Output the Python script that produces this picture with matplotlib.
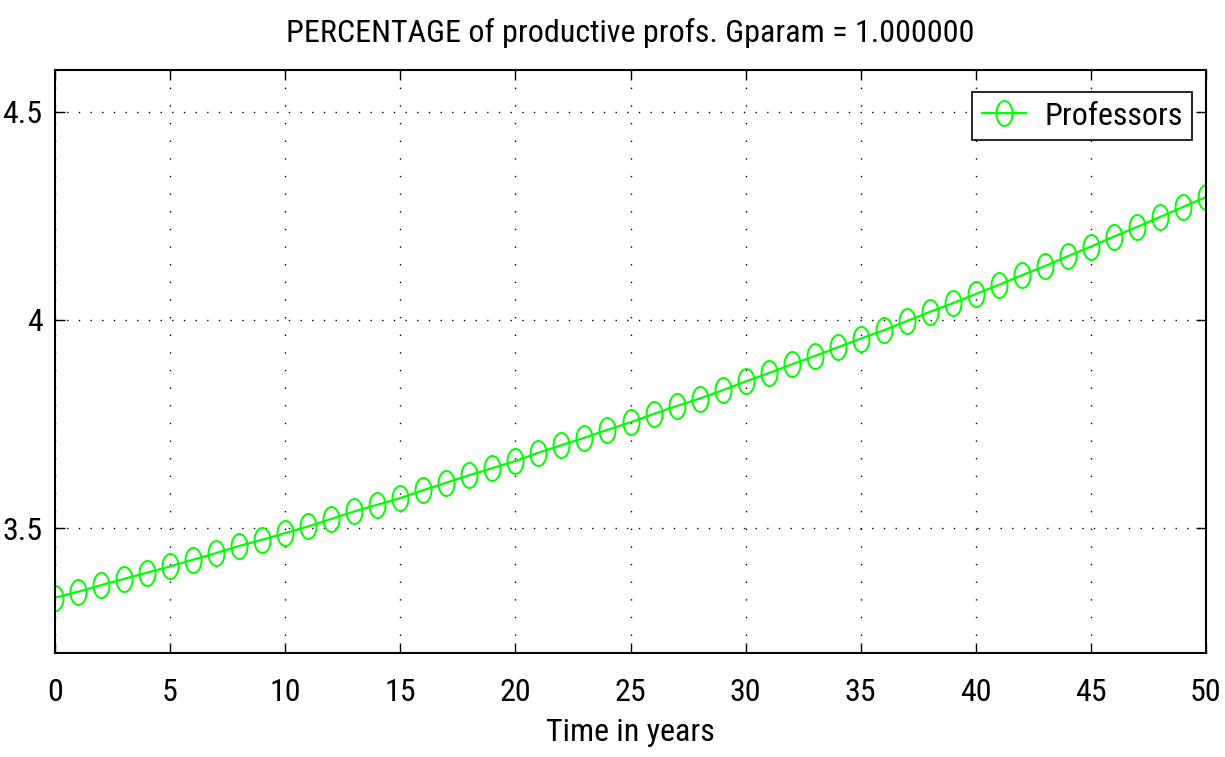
import numpy as np
import matplotlib
matplotlib.use("Agg")
import matplotlib.pyplot as plt
from matplotlib.path import Path
from matplotlib import font_manager as fm

years = list(range(0, 51))
professors = [
    3.333, 3.347, 3.363, 3.378, 3.393, 3.408, 3.424, 3.440, 3.457, 3.472,
    3.488, 3.504, 3.522, 3.540, 3.556, 3.572, 3.591, 3.609, 3.627, 3.644,
    3.661, 3.681, 3.699, 3.717, 3.736, 3.754, 3.774, 3.793, 3.811, 3.831,
    3.852, 3.872, 3.893, 3.913, 3.934, 3.955, 3.975, 3.997, 4.019, 4.040,
    4.062, 4.084, 4.107, 4.129, 4.153, 4.176, 4.200, 4.223, 4.247, 4.271,
    4.295,
]
x_ticks = [0, 5, 10, 15, 20, 25, 30, 35, 40, 45, 50]
y_ticks = [3.5, 4.0, 4.5]
y_ticklabels = ["3.5", "4", "4.5"]
title_text = "PERCENTAGE of productive profs. Gparam = 1.000000"
xlabel_text = "Time in years"
legend_label = "Professors"

# look for a condensed sans font (reference uses a narrow Helvetica look)
cands = []
for f in fm.fontManager.ttflist:
    nm = f.name.lower()
    fn = f.fname.lower()
    if f.style != "normal" or f.weight not in (400, "normal", "regular"):
        continue
    if "narrow" in nm or "condensed" in nm or "condensed" in fn or "narrow" in fn \
            or str(f.stretch) in ("condensed", "semi-condensed", "75", "87.5"):
        cands.append(f)
pref = ["liberation sans narrow", "arial narrow", "roboto condensed",
        "open sans condensed", "noto sans condensed", "dejavu sans condensed",
        "dejavusanscondensed"]
chosen = None
for p in pref:
    for f in cands:
        if p in f.name.lower() or p.replace(" ", "") in f.fname.lower().replace(" ", ""):
            chosen = f
            break
    if chosen:
        break
if chosen is None and cands:
    chosen = cands[0]

if chosen is not None:
    fp = fm.FontProperties(fname=chosen.fname)
    condensed = True
else:
    fp = fm.FontProperties(family="Liberation Sans")
    condensed = False

FS = 23 if condensed else 21

W, H = 1225, 757
fig = plt.figure(figsize=(W / 100, H / 100), dpi=100)
left, right, top, bottom = 55, 1206, 70, 653
ax = fig.add_axes([left / W, 1 - bottom / H, (right - left) / W, (bottom - top) / H])

t = np.linspace(0, 2 * np.pi, 60)
ell = Path(np.column_stack([0.64 * np.cos(t), np.sin(t)]), closed=True)

green = (0, 1, 0)
ax.plot(years, professors, color=green, lw=1.6, marker=ell, markersize=18,
        markerfacecolor="none", markeredgecolor=green, markeredgewidth=1.4,
        label=legend_label)

ax.set_xlim(0, 50)
ax.set_ylim(3.2, 4.6)
ax.set_xticks(x_ticks)
ax.set_yticks(y_ticks)
ax.set_yticklabels(y_ticklabels)

ax.tick_params(direction="in", length=7, width=1.0, top=True, right=True,
               colors="black")
ax.tick_params(axis="x", pad=18)
ax.tick_params(axis="y", pad=9)
for lab in ax.get_xticklabels() + ax.get_yticklabels():
    lab.set_fontproperties(fp)
    lab.set_fontsize(FS)
for s in ax.spines.values():
    s.set_linewidth(1.5)
    s.set_color("black")

ax.xaxis.grid(True, color="black", linewidth=1.0, linestyle=(0, (1.0, 11.7)))
ax.yaxis.grid(True, color="black", linewidth=1.0, linestyle=(0, (1.0, 7.4)))
ax.set_axisbelow(True)

ax.set_title(title_text, fontproperties=fp, fontsize=FS, pad=20)
ax.set_xlabel(xlabel_text, fontproperties=fp, fontsize=FS, labelpad=8)

lp = fp.copy()
lp.set_size(FS)
leg = ax.legend(loc="upper right", bbox_to_anchor=(1192 / W, 1 - 92 / H),
                bbox_transform=fig.transFigure, borderaxespad=0,
                prop=lp, handlelength=1.4, handletextpad=0.55,
                borderpad=0.3, fancybox=False, framealpha=1)
leg.get_frame().set_edgecolor("black")
leg.get_frame().set_linewidth(1.2)

fig.savefig("out.png", dpi=100)
